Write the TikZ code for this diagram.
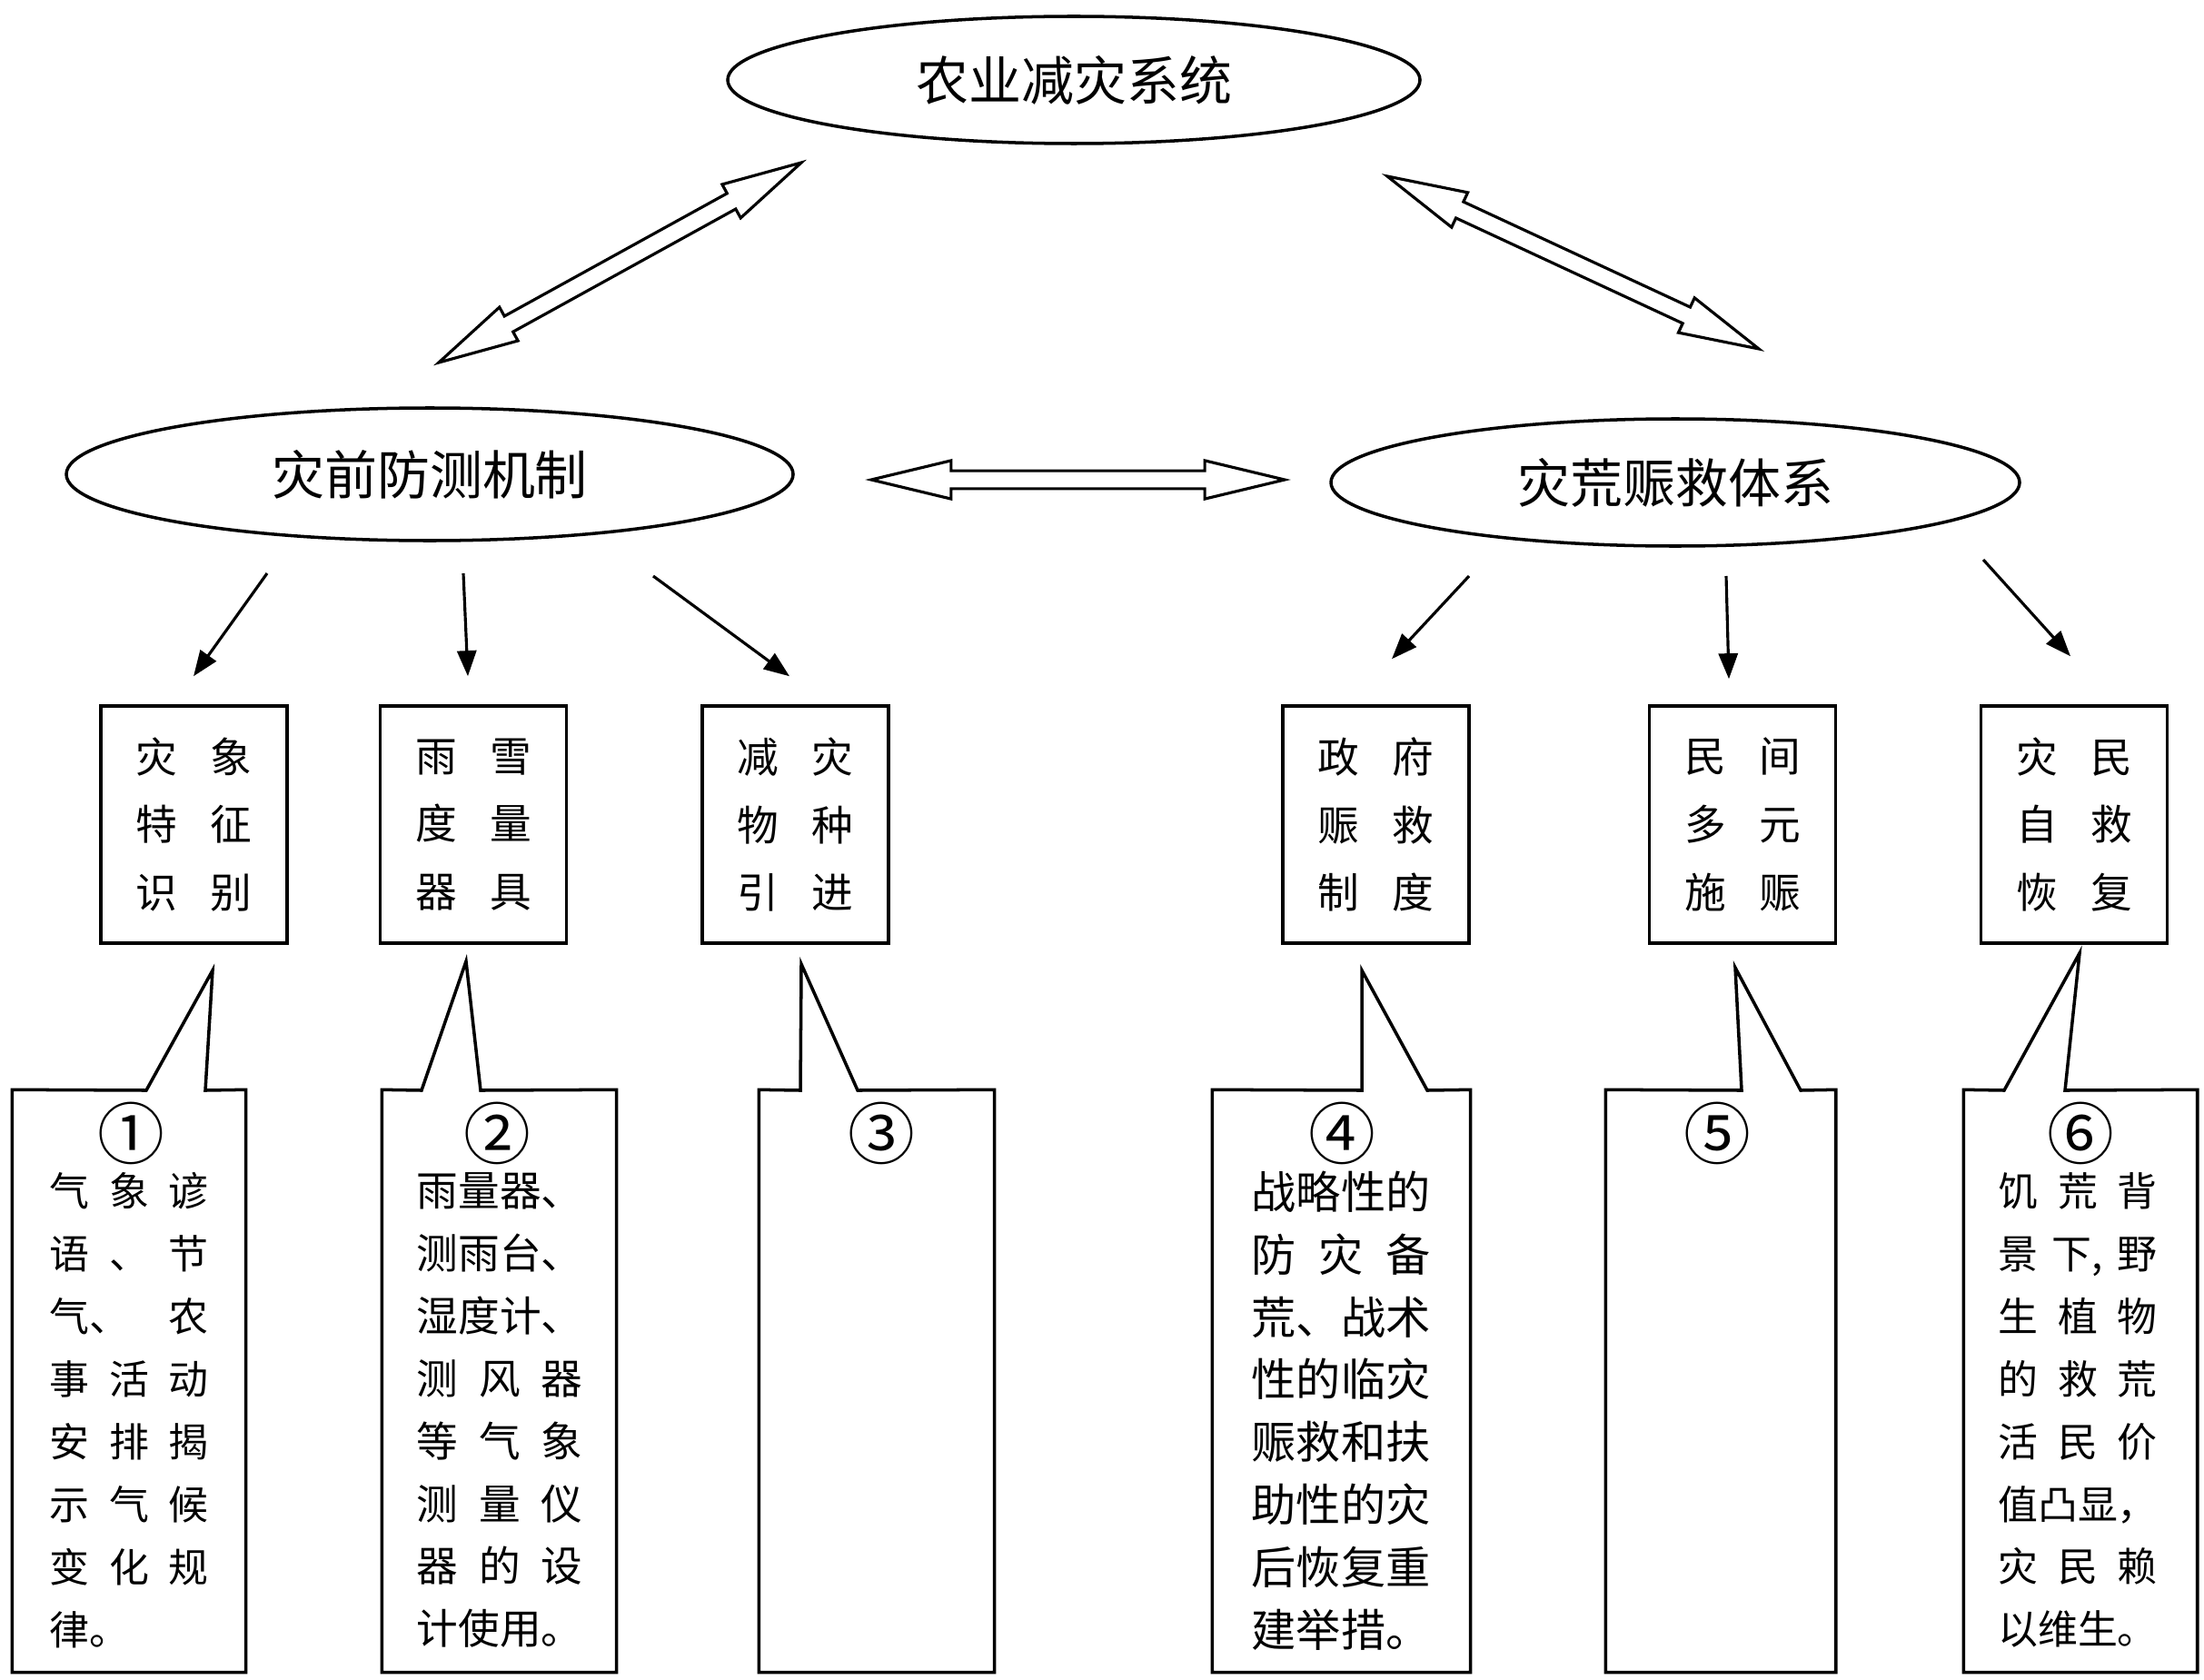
\documentclass[tikz,border=0pt]{standalone}
\usepackage{fontspec}
\setmainfont{Noto Sans CJK SC}
\usetikzlibrary{shapes.geometric, arrows.meta, calc}

% one row of a note, spread to four characters
\newcommand{\spread}[1]{\makebox[4em]{#1}}
% two characters of a small box
\newcommand{\pair}[2]{#1\hspace{10.3pt}#2}
% hollow arrow with a head at both ends
\newcommand{\dblarrow}[2]{%
    \draw[dbl] let \p1=(#1), \p2=(#2),
        \n1={atan2(\y2-\y1,\x2-\x1)}, \n2={veclen(\x2-\x1,\y2-\y1)} in
        [shift={(\p1)}, rotate=\n1]
        (0pt,0pt) -- (25pt,6pt) -- (25pt,2.8pt) -- ({\n2-25pt},2.8pt)
        -- ({\n2-25pt},6pt) -- ({\n2+0pt},0pt) -- ({\n2-25pt},-6pt)
        -- ({\n2-25pt},-2.8pt) -- (25pt,-2.8pt) -- (25pt,-6pt) -- cycle;}

\begin{document}
\begin{tikzpicture}[
        ell/.style={
            ellipse,
            draw,
            line width=1pt,
            inner sep=0pt,
            font=\fontsize{16.5}{20}\selectfont
        },
        item/.style={
            rectangle,
            draw,
            line width=1pt,
            minimum width=2.05cm,
            minimum height=2.61cm,
            align=center,
            font=\fontsize{13}{21.3}\selectfont
        },
        pane/.style={
            rectangle,
            minimum width=#1,
            minimum height=6.40cm,
            inner sep=0pt
        },
        frame/.style={line width=1pt, line join=miter},
        num/.style={font=\fontsize{21}{24}\selectfont},
        note/.style={
            anchor=north,
            inner sep=0pt,
            align=left,
            font=\fontsize{12.5}{19.6}\selectfont
        },
        arrow/.style={-{Triangle[length=8pt,width=6pt]}, line width=0.9pt},
        dbl/.style={draw, line width=0.9pt, fill=white, line join=miter}
    ]
    \useasboundingbox (0,0) rectangle (24.26,-18.48);

    % ellipses
    \node (sys)    [ell, minimum width=7.62cm, minimum height=1.40cm] at (11.82,-0.88) {农业减灾系统};
    \node (pre)    [ell, minimum width=8.00cm, minimum height=1.46cm] at (4.73,-5.22) {灾前防测机制};
    \node (relief) [ell, minimum width=7.58cm, minimum height=1.40cm] at (18.44,-5.31) {灾荒赈救体系};

    % double arrows
    \coordinate (la1) at (8.82,-1.79);
    \coordinate (la2) at (4.83,-3.99);
    \coordinate (ra1) at (15.27,-1.94);
    \coordinate (ra2) at (19.36,-3.84);
    \coordinate (ha1) at (9.59,-5.28);
    \coordinate (ha2) at (14.14,-5.28);
    \dblarrow{la1}{la2}
    \dblarrow{ra1}{ra2}
    \dblarrow{ha1}{ha2}

    % small boxes
    \node (b1) [item] at (2.135,-9.075)  {\pair{灾}{象}\\\pair{特}{征}\\\pair{识}{别}};
    \node (b2) [item] at (5.21,-9.075)   {\pair{雨}{雪}\\\pair{度}{量}\\\pair{器}{具}};
    \node (b3) [item] at (8.755,-9.075)  {\pair{减}{灾}\\\pair{物}{种}\\\pair{引}{进}};
    \node (b4) [item] at (15.145,-9.075) {\pair{政}{府}\\\pair{赈}{救}\\\pair{制}{度}};
    \node (b5) [item] at (19.18,-9.075)  {\pair{民}{间}\\\pair{多}{元}\\\pair{施}{赈}};
    \node (b6) [item] at (22.83,-9.075)  {\pair{灾}{民}\\\pair{自}{救}\\\pair{恢}{复}};

    % arrows to the boxes
    \coordinate (s1) at (2.94,-6.31);
    \coordinate (s2) at (5.10,-6.31);
    \coordinate (s3) at (7.19,-6.34);
    \coordinate (s4) at (16.17,-6.34);
    \coordinate (s5) at (19.00,-6.34);
    \coordinate (s6) at (21.83,-6.16);
    \draw [arrow] (s1) -- ([xshift=-0.005cm, yshift=0.31cm]b1.north);
    \draw [arrow] (s2) -- ([xshift=-0.06cm, yshift=0.31cm]b2.north);
    \draw [arrow] (s3) -- ([xshift=-0.065cm, yshift=0.31cm]b3.north);
    \draw [arrow] (s4) -- ([xshift=0.175cm, yshift=0.50cm]b4.north);
    \draw [arrow] (s5) -- ([xshift=-0.15cm, yshift=0.28cm]b5.north);
    \draw [arrow] (s6) -- ([xshift=-0.04cm, yshift=0.53cm]b6.north);

    % notes
    \node (c1) [pane=2.56cm] at (1.42,-15.20) {};
    \node (c2) [pane=2.57cm] at (5.495,-15.20) {};
    \node (c3) [pane=2.58cm] at (9.65,-15.20) {};
    \node (c4) [pane=2.83cm] at (14.765,-15.20) {};
    \node (c5) [pane=2.52cm] at (18.94,-15.20) {};
    \node (c6) [pane=2.56cm] at (22.90,-15.20) {};

    \draw [frame] (c1.north west) -- (1.61,-12.00) -- (2.34,-10.68) -- (2.26,-12.00)
        -- (c1.north east) -- (c1.south east) -- (c1.south west) -- cycle;
    \draw [frame] (c2.north west) -- (4.64,-12.00) -- (5.13,-10.58) -- (5.29,-12.00)
        -- (c2.north east) -- (c2.south east) -- (c2.south west) -- cycle;
    \draw [frame] (c3.north west) -- (8.81,-12.00) -- (8.82,-10.61) -- (9.44,-12.00)
        -- (c3.north east) -- (c3.south east) -- (c3.south west) -- cycle;
    \draw [frame] (c4.north west) -- (14.99,-12.00) -- (14.99,-10.68) -- (15.71,-12.00)
        -- (c4.north east) -- (c4.south east) -- (c4.south west) -- cycle;
    \draw [frame] (c5.north west) -- (19.17,-12.00) -- (19.10,-10.65) -- (19.82,-12.00)
        -- (c5.north east) -- (c5.south east) -- (c5.south west) -- cycle;
    \draw [frame] (c6.north west) -- (22.06,-12.00) -- (22.89,-10.49) -- (22.73,-12.00)
        -- (c6.north east) -- (c6.south east) -- (c6.south west) -- cycle;

    \node (n1) [num] at (1.44,-12.47) {①};
    \node (n2) [num] at (5.47,-12.47) {②};
    \node (n3) [num] at (9.70,-12.47) {③};
    \node (n4) [num] at (14.77,-12.47) {④};
    \node (n5) [num] at (18.90,-12.47) {⑤};
    \node (n6) [num] at (22.90,-12.47) {⑥};

    \node (t1) [note] at (1.42,-12.90) {%
        \spread{气\hfill 象\hfill 谚}\\\spread{语\hfill 、\hfill 节}\\
        \spread{气、\hfill 农}\\\spread{事\hfill 活\hfill 动}\\
        \spread{安\hfill 排\hfill 揭}\\\spread{示\hfill 气\hfill 候}\\
        \spread{变\hfill 化\hfill 规}\\\spread{律。\hfill}};
    \node (t2) [note, font=\fontsize{13}{19.6}\selectfont] at (5.50,-12.90) {%
        \spread{雨量器、}\\\spread{测雨台、}\\
        \spread{湿度计、}\\\spread{测\hfill 风\hfill 器}\\
        \spread{等\hfill 气\hfill 象}\\\spread{测\hfill 量\hfill 仪}\\
        \spread{器\hfill 的\hfill 设}\\\spread{计使用。}};
    \node (t4) [note, font=\fontsize{14}{19.6}\selectfont] at (14.76,-12.88) {%
        \spread{战略性的}\\\spread{防\hfill 灾\hfill 备}\\
        \spread{荒、战术}\\\spread{性的临灾}\\
        \spread{赈救和扶}\\\spread{助性的灾}\\
        \spread{后恢复重}\\\spread{建举措。}};
    \node (t6) [note] at (22.87,-12.90) {%
        \spread{饥\hfill 荒\hfill 背}\\\spread{景\hfill 下,\hfill 野}\\
        \spread{生\hfill 植\hfill 物}\\\spread{的\hfill 救\hfill 荒}\\
        \spread{活\hfill 民\hfill 价}\\\spread{值凸显，}\\
        \spread{灾\hfill 民\hfill 赖}\\\spread{以维生。}};

\end{tikzpicture}
\end{document}
